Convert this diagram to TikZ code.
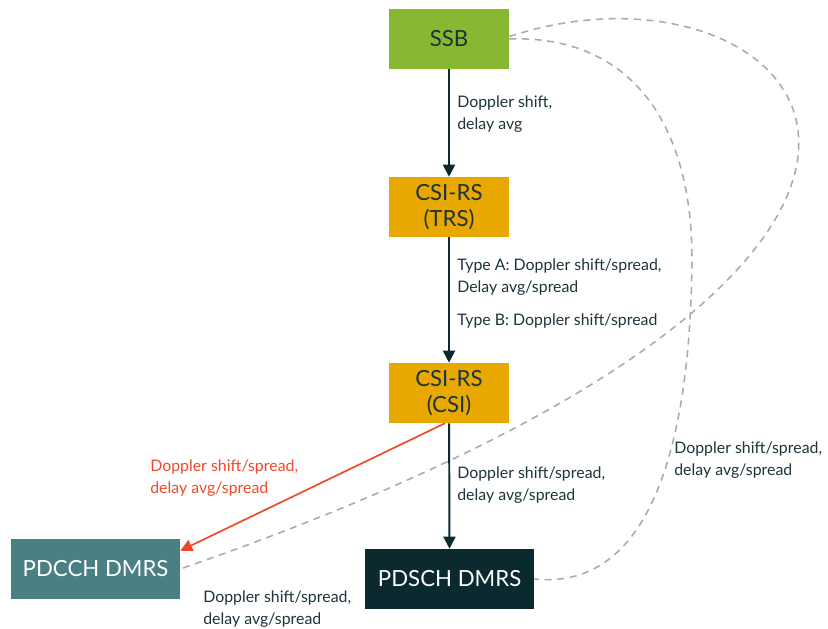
\documentclass[tikz,border=0pt]{standalone}
\usepackage{fontspec}
\setmainfont{Lato}
\usetikzlibrary{arrows.meta,positioning}
\definecolor{ssbgreen}{RGB}{134,185,49}
\definecolor{rsorange}{RGB}{232,168,0}
\definecolor{ctrlteal}{RGB}{74,127,131}
\definecolor{datadark}{RGB}{11,42,48}
\definecolor{ink}{RGB}{28,52,58}
\definecolor{hot}{RGB}{240,72,40}
\definecolor{qclgrey}{RGB}{170,170,170}

\begin{document}
\begin{tikzpicture}[
    rs/.style={minimum width=3cm,minimum height=1.5cm,inner sep=0pt,align=center,font=\fontsize{15.8}{18}\selectfont},
    ssbbox/.style={rs,fill=ssbgreen,text=ink},
    csibox/.style={rs,fill=rsorange,text=ink},
    dmrs/.style={rs,minimum width=4.22cm,text=white},
    lbl/.style={anchor=west,inner sep=0pt,align=left,text=ink,font=\fontsize{11.3}{15.5}\selectfont},
    arr/.style={-{Triangle[length=3mm,width=3mm]},line width=1.4pt,draw=datadark},
    harr/.style={-{Triangle[length=3mm,width=3mm]},line width=1.2pt,draw=hot},
    qcl/.style={line width=1.1pt,draw=qclgrey,dash pattern=on 5pt off 4pt}]
   \useasboundingbox (0,0) rectangle (20.7,15.7);
   \node[ssbbox] (ssb) at (11.225,14.725) {SSB};
   \node[csibox] (trs) at (11.225,10.525) {CSI-RS\\(TRS)};
   \node[csibox] (csi) at (11.225,5.875)  {CSI-RS\\(CSI)};
   \node[dmrs,fill=ctrlteal] (pdcch) at (2.39,1.475)  {PDCCH DMRS};
   \node[dmrs,fill=datadark] (pdsch) at (11.24,1.225) {PDSCH DMRS};
   % solid chain down the middle
   \draw[arr] (ssb)--(trs);
   \draw[arr] (trs)--(csi);
   \draw[arr] (csi)--(pdsch);
   \draw[harr] ([xshift=-0.1cm]csi.south)--([yshift=-0.3cm]pdcch.north east);
   \node[lbl] (l1) at (11.425,12.85) {Doppler shift,\\delay avg};
   \node[lbl] (l2) at (11.425,8.775) {Type A: Doppler shift/spread,\\Delay avg/spread};
   \node[lbl] (l3) at (11.425,7.675) {Type B: Doppler shift/spread};
   \node[lbl] (l4) at (11.425,3.575) {Doppler shift/spread,\\delay avg/spread};
   \node[lbl,text=hot] (l5) at (3.75,3.75) {Doppler shift/spread,\\delay avg/spread};
   % dashed links straight from the SSB
   \draw[qcl] (ssb.east) .. controls (15.5,14.825) and (17.3,12.95) .. (17.3,9.2)
              .. controls (17.25,3.95) and (16.0,0.95) .. (pdsch.east);
   \draw[qcl] ([yshift=0.06cm]ssb.east) .. controls (20.0,17.2) and (27.5,9.45) .. (pdcch.east);
   \node[lbl] (l6) at (16.85,4.2) {Doppler shift/spread,\\delay avg/spread};
   \node[lbl] (l7) at (5.075,0.475) {Doppler shift/spread,\\delay avg/spread};
\end{tikzpicture}
\end{document}
